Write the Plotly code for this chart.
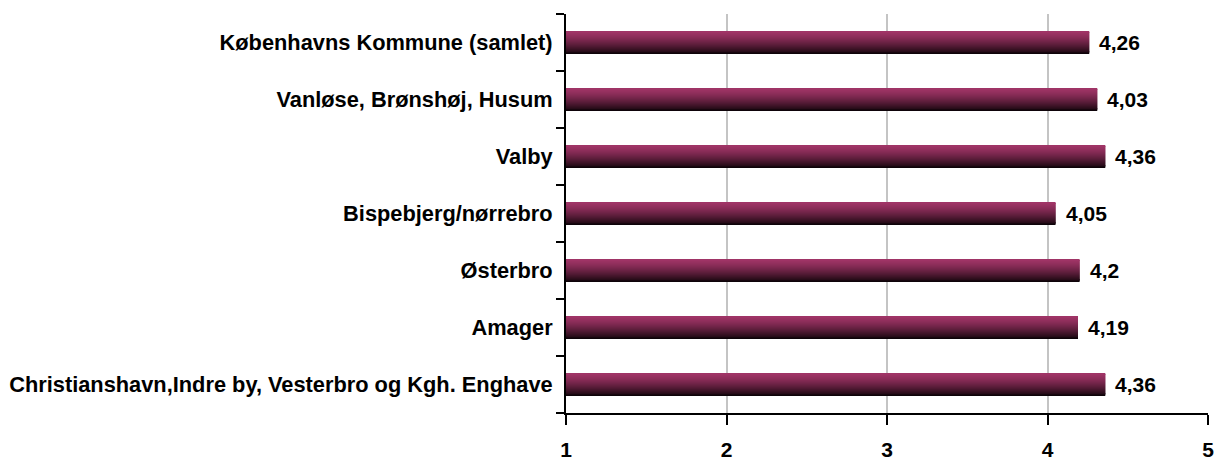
import plotly.graph_objects as go

# Bydele, nederst til øverst (som i Excel)
categories = [
    "Christianshavn,Indre by, Vesterbro og Kgh. Enghave",
    "Amager",
    "Østerbro",
    "Bispebjerg/nørrebro",
    "Valby",
    "Vanløse, Brønshøj, Husum",
    "Københavns Kommune (samlet)",
]
values = [4.36, 4.19, 4.20, 4.05, 4.36, 4.31, 4.26]
value_labels = ["4,36", "4,19", "4,2", "4,05", "4,36", "4,03", "4,26"]
x_ticks = [1, 2, 3, 4, 5]

FONT = "Liberation Sans, Arial, sans-serif"
BAR_WIDTH = 0.40
N_STRIPS = 24

top_rgb = (160, 52, 102)
bottom_rgb = (10, 2, 6)


def strip_color(t):
    # t = 0 at the top of the bar, 1 at the bottom
    f = t ** 1.4
    r, g, b = (round(a + (c - a) * f) for a, c in zip(top_rgb, bottom_rgb))
    return f"rgb({r},{g},{b})"


fig = go.Figure()

# Stack thin bars to fake the vertical gradient fill
step = BAR_WIDTH / N_STRIPS
for k in range(N_STRIPS):
    offset = -BAR_WIDTH / 2 + k * step
    t = 1 - (k + 0.5) / N_STRIPS
    fig.add_trace(go.Bar(
        x=[v - 1 for v in values],
        y=categories,
        base=1,
        orientation="h",
        width=step * 1.02,
        offset=offset,
        marker=dict(color=strip_color(t), line_width=0),
        hoverinfo="skip",
        showlegend=False,
    ))

# Value labels just right of each bar
for cat, val, lab in zip(categories, values, value_labels):
    fig.add_annotation(
        x=val, y=cat, text=lab,
        showarrow=False, xanchor="left", xshift=8,
        font=dict(family=FONT, size=21, color="black", weight="bold"),
    )

fig.update_layout(
    width=1218,
    height=462,
    margin=dict(l=566, r=10, t=14, b=49),
    paper_bgcolor="white",
    plot_bgcolor="white",
    barmode="overlay",
    font=dict(family=FONT, size=20, color="black", weight="bold"),
)

fig.update_xaxes(
    range=[1, 5],
    tickvals=x_ticks,
    showgrid=True,
    gridcolor="#c4c4c4",
    gridwidth=2,
    showline=True,
    linecolor="black",
    linewidth=2,
    ticks="outside",
    ticklen=10,
    tickwidth=2,
    tickcolor="black",
    tickfont=dict(size=21),
    ticklabelstandoff=7,
    zeroline=False,
    automargin=False,
)

fig.update_yaxes(
    type="category",
    showline=True,
    linecolor="black",
    linewidth=2,
    ticks="outside",
    tickson="boundaries",
    ticklen=8,
    tickwidth=2,
    tickcolor="black",
    tickfont=dict(size=21.8),
    ticklabelstandoff=7,
    showgrid=False,
    zeroline=False,
    automargin=False,
)

fig.write_html(
    "out.html",
    config={"displayModeBar": False},
    post_script="document.body.style.margin='0';",
)
